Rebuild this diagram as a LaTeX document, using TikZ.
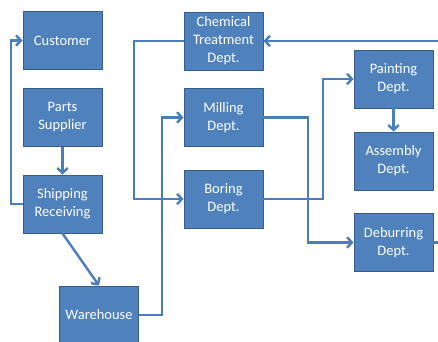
\documentclass[tikz,border=0pt]{standalone}
\usepackage{fontspec}
\setmainfont{Carlito}
\usepackage{tikz}
\usetikzlibrary{arrows.meta}

\definecolor{boxblue}{HTML}{4F81BD}
\definecolor{boxedge}{HTML}{385D8A}
\definecolor{flowblue}{HTML}{4A7EBB}

\begin{document}
\begin{tikzpicture}[->,>={Straight Barb[length=3.5pt,width=7.5pt]},x=0.025cm,y=-0.025cm,
                    line width=1.7pt,draw=flowblue]

  \tikzstyle{dept}=[fill=boxblue,draw=boxedge,line width=0.6pt,text=white,
                    minimum width=1.975cm,minimum height=1.45cm,inner sep=1pt,
                    align=center,font=\fontsize{10.3}{12.8}\selectfont]

  \clip (0,0) rectangle (438,341);

  \node[dept]        (cust)  at (62.5,40.5)  {Customer};
  \node[dept]        (parts) at (62.5,117.5) {Parts\\Supplier};
  \node[dept]        (ship)  at (62.5,204)   {Shipping\\Receiving};
  \node[dept]        (ware)  at (99,315)     {Warehouse};
  \node[dept]        (chem)  at (223.5,41)   {Chemical\\Treatment\\Dept.};
  \node[dept]        (mill)  at (223.5,117.5) {Milling\\Dept.};
  \node[dept]        (bore)  at (223.5,199)  {Boring\\Dept.};
  \node[dept]        (paint) at (393.5,79)   {Painting\\Dept.};
  \node[dept]        (assem) at (393.5,161)  {Assembly\\Dept.};
  \node[dept]        (debur) at (393.5,242.5) {Deburring\\Dept.};

  \draw (parts) -- (ship);
  \draw (ship.west) -- (11,204) |- (cust.west);
  \draw (ship.south) -- (ware.north);
  \draw (ware.east) -- (162,315) |- (mill.west);
  \draw (chem.west) -- (134,41) |- (bore.west);
  \draw (mill.east) -- (308,117.5) |- (debur.west);
  \draw (bore.east) -- (323,199) |- (paint.west);
  \draw (paint) -- (assem);
  \draw (debur.east) -- (446,242.5) |- (chem.east);
\end{tikzpicture}
\end{document}
